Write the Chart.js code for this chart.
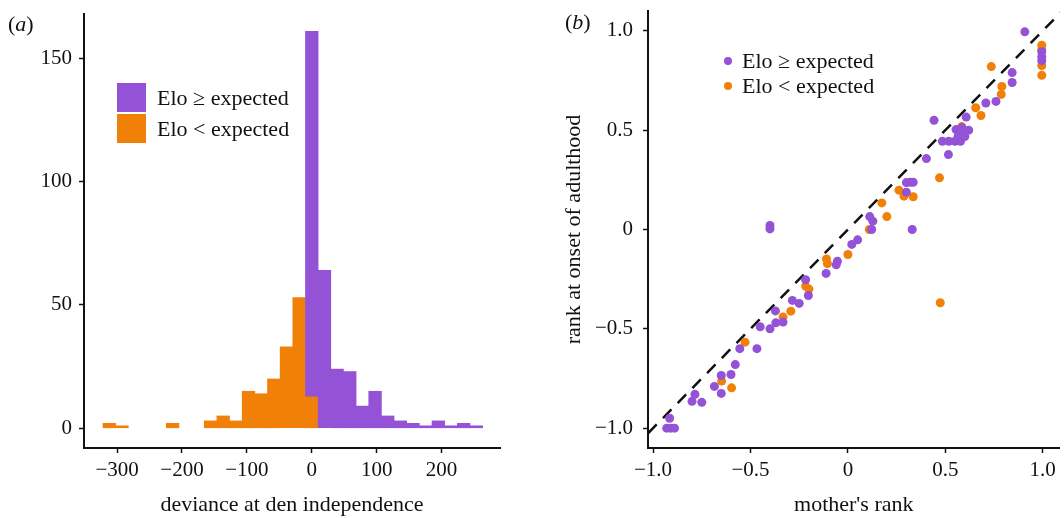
<!DOCTYPE html>
<html>
<head>
<meta charset="utf-8">
<style>
body { margin: 0; background: #fff; font-family: 'Liberation Serif', 'Times New Roman', serif; color: #111; }
.panel { position: absolute; top: 0; height: 518px; }
#panelA { left: 0; width: 505px; }
#panelB { left: 560px; width: 504px; }
.tag { position: absolute; font-size: 22px; line-height: 26px; }
.key { position: absolute; display: flex; align-items: center; font-size: 22px; white-space: nowrap; }
.box { display: inline-block; width: 29px; height: 29px; margin-right: 11px; }
.dot { display: inline-block; width: 8px; height: 8px; border-radius: 50%; margin-right: 10px; }
</style>
</head>
<body>
<div class="panel" id="panelA"><canvas id="histChart"></canvas></div>
<div class="panel" id="panelB"><canvas id="rankChart"></canvas></div>

<div class="tag" style="left:8px;top:11px">(<i>a</i>)</div>
<div class="tag" style="left:565px;top:9px">(<i>b</i>)</div>

<div class="key" style="left:117px;top:83px;height:29px"><span class="box" style="background:#9452d6"></span>Elo ≥ expected</div>
<div class="key" style="left:117px;top:114px;height:29px"><span class="box" style="background:#f08008"></span>Elo &lt; expected</div>

<div class="key" style="left:724px;top:48px;height:26px"><span class="dot" style="background:#9452d6"></span>Elo ≥ expected</div>
<div class="key" style="left:724px;top:73px;height:26px"><span class="dot" style="background:#f08008"></span>Elo &lt; expected</div>

<script src="https://cdn.jsdelivr.net/npm/chart.js"></script>
<script>
// (a) histogram, 30 bins of width 19.5
const binMid = [-312, -292.5, -273, -253.5, -234, -214.5, -195, -175.5, -156, -136.5,
  -117, -97.5, -78, -58.5, -39, -19.5, 0, 19.5, 39, 58.5,
  78, 97.5, 117, 136.5, 156, 175.5, 195, 214.5, 234, 253.5];
const lowCount = [2, 1, 0, 0, 0, 2, 0, 0, 3, 5,
  3, 15, 14, 20, 33, 53, 13, 0, 0, 0,
  0, 0, 0, 0, 0, 0, 0, 0, 0, 0];
const highCount = [0, 0, 0, 0, 0, 0, 0, 0, 0, 0,
  0, 0, 0, 0, 0, 0, 148, 64, 24, 23,
  9, 15, 5, 3, 2, 1, 3, 1, 2, 1];
const histTicksX = [-300, -200, -100, 0, 100, 200];
const histTicksY = [0, 50, 100, 150];

// (b) mother's rank vs rank at onset of adulthood
const highX = [-0.93, -0.91, -0.89, -0.915, -0.80, -0.785, -0.75, -0.685, -0.65, -0.65,
  -0.60, -0.578, -0.555, -0.467, -0.45, -0.40, -0.37, -0.333, -0.372, -0.40,
  -0.40, -0.285, -0.25, -0.217, -0.203, -0.112, -0.054, -0.06, 0.02, 0.05,
  0.112, 0.128, 0.122, 0.30, 0.32, 0.335, 0.30, 0.33, 0.403, 0.442,
  0.516, 0.485, 0.518, 0.55, 0.578, 0.555, 0.572, 0.59, 0.62, 0.60,
  0.566, 0.585, 0.607, 0.708, 0.76, 0.843, 0.843, 0.908, 0.995, 0.995, 0.995];
const highY = [-1.0, -1.0, -1.0, -0.95, -0.865, -0.83, -0.87, -0.79, -0.825, -0.735,
  -0.73, -0.68, -0.60, -0.60, -0.49, -0.50, -0.47, -0.466, -0.41, 0.02,
  0.003, -0.357, -0.372, -0.253, -0.332, -0.221, -0.16, -0.178, -0.075, -0.052,
  0.065, 0.042, 0.0, 0.236, 0.238, 0.238, 0.188, 0.0, 0.357, 0.55,
  0.377, 0.444, 0.444, 0.444, 0.444, 0.503, 0.48, 0.497, 0.50, 0.468,
  0.47, 0.512, 0.566, 0.637, 0.645, 0.79, 0.74, 0.995, 0.895, 0.87, 0.85];
const lowX = [-0.648, -0.597, -0.528, -0.333, -0.293, -0.217, -0.2, -0.11, -0.105, 0.0,
  0.11, 0.174, 0.2, 0.262, 0.288, 0.335, 0.47, 0.474, 0.584, 0.656,
  0.683, 0.736, 0.79, 0.787, 0.995, 0.995, 0.995, 0.995];
const lowY = [-0.763, -0.797, -0.567, -0.44, -0.411, -0.285, -0.30, -0.148, -0.172, -0.126,
  0.0, 0.134, 0.065, 0.198, 0.168, 0.165, 0.26, -0.369, 0.518, 0.613,
  0.574, 0.82, 0.72, 0.68, 0.928, 0.905, 0.825, 0.776];
const rankTicks = [-1, -0.5, 0, 0.5, 1];
const refLine = [-1.1, 1.1]; // y = x

const purple = '#9452d6';
const orange = '#f08008';
const ink = '#111';
const serif = "'Liberation Serif', 'Times New Roman', serif";

function axis(extra) {
  return Object.assign({
    type: 'linear',
    offset: false,
    ticks: { color: ink, font: { family: serif, size: 21 }, padding: 5, maxRotation: 0, autoSkip: false },
    grid: { display: true, drawOnChartArea: false, drawTicks: true, tickLength: 5, color: ink, tickColor: ink, tickWidth: 1.5, offset: false },
    border: { display: true, color: ink, width: 2 }
  }, extra);
}

// fix axis box size and drop the label overflow padding so the plot area stays put
function fixH(h) {
  return s => { s.height = h; s.paddingLeft = 0; s.paddingRight = 0; };
}
function fixW(w) {
  return s => { s.width = w; s.paddingTop = 0; s.paddingBottom = 0; };
}

const histX = axis({
  min: -351, max: 290,
  afterFit: fixH(70),
  afterBuildTicks: s => { s.ticks = histTicksX.map(v => ({ value: v })); },
  title: { display: true, text: 'deviance at den independence', color: ink, font: { family: serif, size: 22 }, padding: { top: 0, bottom: 0 } }
});
histX.ticks = Object.assign({}, histX.ticks, { callback: v => String(v).replace('-', '\u2212') });

const histY = axis({
  min: -8, max: 168,
  afterFit: fixW(84),
  afterBuildTicks: s => { s.ticks = histTicksY.map(v => ({ value: v })); }
});
histY.ticks = Object.assign({}, histY.ticks, { padding: 7, callback: v => String(v) });

new Chart(document.getElementById('histChart'), {
  type: 'bar',
  data: {
    datasets: [{
      label: 'Elo ≥ expected',
      data: binMid.map((x, i) => ({ x: x, y: highCount[i] ? [lowCount[i], lowCount[i] + highCount[i]] : null })),
      backgroundColor: purple,
      borderWidth: 0,
      grouped: false,
      barPercentage: 1,
      categoryPercentage: 1
    }, {
      label: 'Elo < expected',
      data: binMid.map((x, i) => ({ x: x, y: lowCount[i] || null })),
      backgroundColor: orange,
      borderWidth: 0,
      grouped: false,
      barPercentage: 1,
      categoryPercentage: 1
    }]
  },
  options: {
    responsive: true,
    maintainAspectRatio: false,
    animation: false,
    layout: { padding: { top: 14, right: 5, left: 0, bottom: 0 } },
    plugins: { legend: { display: false }, tooltip: { enabled: false } },
    scales: { x: histX, y: histY }
  }
});

const rankFmt = v => (v === 0 ? '0' : v.toFixed(1).replace('-', '\u2212'));

const rankX = axis({
  min: -1.026, max: 1.086,
  afterFit: fixH(70),
  afterBuildTicks: s => { s.ticks = rankTicks.map(v => ({ value: v })); },
  title: { display: true, text: "mother's rank", color: ink, font: { family: serif, size: 22 }, padding: { top: 0, bottom: 0 } }
});
rankX.ticks = Object.assign({}, rankX.ticks, { callback: rankFmt });

const rankY = axis({
  min: -1.1, max: 1.1,
  afterFit: fixW(88),
  afterBuildTicks: s => { s.ticks = rankTicks.map(v => ({ value: v })); },
  title: { display: true, text: 'rank at onset of adulthood', color: ink, font: { family: serif, size: 22 }, padding: { top: 1, bottom: 0 } }
});
rankY.ticks = Object.assign({}, rankY.ticks, { padding: 10, callback: rankFmt });

new Chart(document.getElementById('rankChart'), {
  type: 'scatter',
  data: {
    datasets: [{
      label: 'Elo ≥ expected',
      data: highX.map((x, i) => ({ x: x, y: highY[i] })),
      backgroundColor: purple,
      borderWidth: 0,
      pointRadius: 4.5,
      pointHoverRadius: 4.5
    }, {
      label: 'Elo < expected',
      data: lowX.map((x, i) => ({ x: x, y: lowY[i] })),
      backgroundColor: orange,
      borderWidth: 0,
      pointRadius: 4.5,
      pointHoverRadius: 4.5
    }, {
      type: 'line',
      label: 'y = x',
      data: refLine.map(v => ({ x: v, y: v })),
      borderColor: ink,
      borderWidth: 2.5,
      borderDash: [12, 9],
      pointRadius: 0,
      fill: false
    }]
  },
  options: {
    responsive: true,
    maintainAspectRatio: false,
    animation: false,
    layout: { padding: { top: 11, right: 0, left: 0, bottom: 0 } },
    plugins: { legend: { display: false }, tooltip: { enabled: false } },
    scales: { x: rankX, y: rankY }
  }
});
</script>
</body>
</html>
